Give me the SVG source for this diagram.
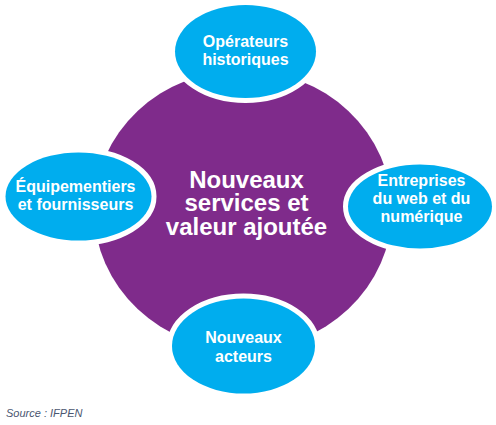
<svg xmlns="http://www.w3.org/2000/svg" width="496" height="425" viewBox="0 0 496 425">
<style>
.bub{fill:#00adee;stroke:#ffffff;stroke-width:10;paint-order:stroke}
.t{font-family:"Liberation Sans",Arial,sans-serif;font-weight:bold;fill:#ffffff;text-anchor:middle}
.s{font-size:16px}
.c{font-size:24px}
.src{font-family:"Liberation Sans",Arial,sans-serif;font-style:italic;font-size:11px;fill:#4a5670}
</style>
<rect width="496" height="425" fill="#ffffff"/>
<g id="center">
<ellipse cx="243" cy="210" rx="149" ry="140" fill="#7f2b8b"/>
<text class="t c" x="246.5" y="187.5">Nouveaux</text>
<text class="t c" x="246.5" y="211">services et</text>
<text class="t c" x="246.5" y="234.5">valeur ajoutée</text>
</g>
<g id="connectors"></g>
<g id="top">
<ellipse class="bub" cx="245.5" cy="51.5" rx="70.5" ry="46.5"/>
<text class="t s" x="245.5" y="47.3">Opérateurs</text>
<text class="t s" x="245.5" y="65">historiques</text>
</g>
<g id="left">
<ellipse class="bub" cx="78.5" cy="196.5" rx="73" ry="44"/>
<text class="t s" x="75.5" y="192.3">Équipementiers</text>
<text class="t s" x="75.5" y="210">et fournisseurs</text>
</g>
<g id="right">
<ellipse class="bub" cx="420" cy="206.5" rx="72" ry="42"/>
<text class="t s" x="421.5" y="186.3">Entreprises</text>
<text class="t s" x="421.5" y="204.3">du web et du</text>
<text class="t s" x="421.5" y="222">numérique</text>
</g>
<g id="bottom">
<ellipse class="bub" cx="243.5" cy="346" rx="71.5" ry="47.5"/>
<text class="t s" x="243.5" y="343.3">Nouveaux</text>
<text class="t s" x="243.5" y="361.7">acteurs</text>
</g>
<text class="src" x="6" y="417.3">Source : IFPEN</text>
</svg>
